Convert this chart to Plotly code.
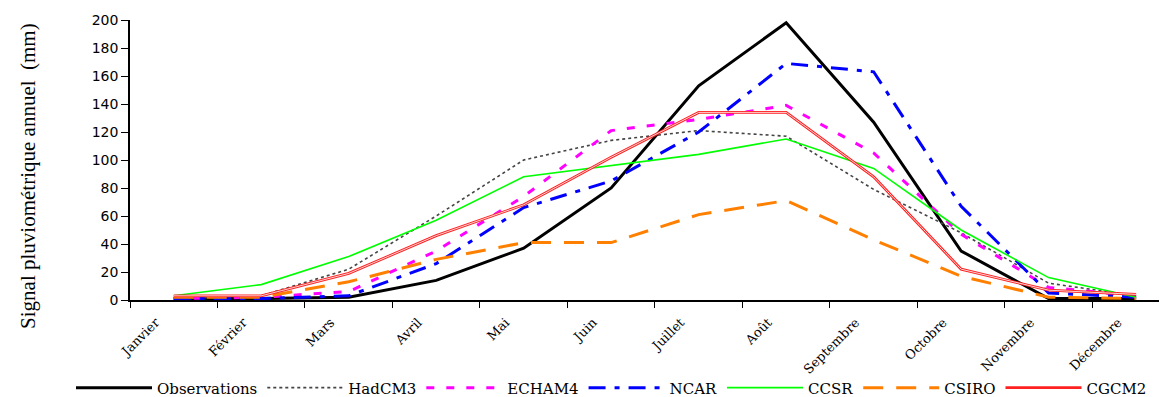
import plotly.graph_objects as go

months = ["Janvier", "Février", "Mars", "Avril", "Mai", "Juin", "Juillet",
          "Août", "Septembre", "Octobre", "Novembre", "Décembre"]

observations = [1, 1, 2, 14, 37, 80, 153, 198, 127, 35, 1, 1]
hadcm3 = [1, 3, 22, 60, 100, 114, 121, 117, 79, 48, 12, 3]
echam4 = [1, 2, 6, 35, 74, 121, 129, 139, 105, 47, 9, 3]
ncar = [1, 1, 3, 26, 66, 85, 120, 169, 163, 67, 5, 2]
ccsr = [3, 11, 31, 57, 88, 96, 104, 115, 94, 50, 16, 2]
csiro = [2, 2, 13, 29, 41, 41, 61, 71, 43, 17, 2, 1]
cgcm2 = [3, 3, 19, 46, 68, 102, 134, 134, 88, 22, 7, 4]

y_ticks = list(range(0, 201, 20))

fig = go.Figure()

def add(name, vals, color, width, dash):
    fig.add_trace(go.Scatter(x=months, y=vals, name=name, mode="lines",
                             line=dict(color=color, width=width, dash=dash)))

add("Observations", observations, "#000000", 3, "solid")
add("HadCM3", hadcm3, "#444444", 1.6, "dot")
add("ECHAM4", echam4, "#FF00FF", 3, "8px,12px")
add("NCAR", ncar, "#0000FF", 3, "17px,9px,5px,9px")
add("CCSR", ccsr, "#00FF00", 1.6, "solid")
add("CSIRO", csiro, "#FF8000", 3, "20px,13px")
add("CGCM2", cgcm2, "#FF2020", 2.8, "solid")
# inner white stroke to mimic the double red line
fig.add_trace(go.Scatter(x=months, y=cgcm2, mode="lines", showlegend=False,
                         hoverinfo="skip",
                         line=dict(color="#FFFFFF", width=0.8)))

# the page body adds an 8px offset; the figure is sized to fill the rest
fig.update_layout(
    width=1159, height=389,
    margin=dict(l=122, r=2, t=12, b=97, autoexpand=False),
    paper_bgcolor="white", plot_bgcolor="white",
    showlegend=True,
    legend=dict(orientation="h", xref="paper", yref="paper",
                x=-0.057, xanchor="left", y=-0.314, yanchor="middle",
                itemwidth=76,
                font=dict(family="DejaVu Serif", size=15, color="black"),
                bgcolor="rgba(0,0,0,0)", tracegroupgap=0),
    annotations=[dict(text="Signal pluviométrique annuel\u00a0 (mm)",
                      xref="paper", yref="paper", x=-0.0986, y=0.443,
                      xanchor="center", yanchor="middle",
                      textangle=-90, showarrow=False,
                      font=dict(family="Liberation Serif", size=21,
                                color="black"))],
)

fig.update_xaxes(
    type="category", range=[-0.5, 11.33], automargin=False,
    showline=True, linecolor="black", linewidth=1.5,
    ticks="outside", tickson="boundaries", ticklen=6, tickcolor="black",
    tickangle=-45, ticklabelstandoff=8, ticklabelshift=-18,
    tickfont=dict(family="DejaVu Serif", size=13, color="black"),
    showgrid=False, zeroline=False,
)
fig.update_yaxes(
    range=[0, 200], tickvals=y_ticks, automargin=False,
    showline=True, linecolor="black", linewidth=1.5,
    ticks="outside", ticklen=7, tickcolor="black",
    tickfont=dict(family="DejaVu Sans", size=14, color="black"),
    showgrid=False, zeroline=False,
)

fig.write_html("out.html")
